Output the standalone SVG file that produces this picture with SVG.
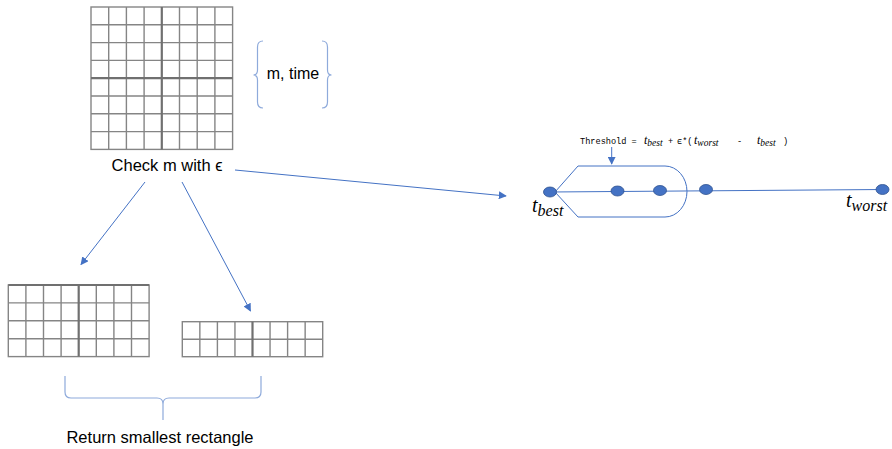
<svg xmlns="http://www.w3.org/2000/svg" width="892" height="449" viewBox="0 0 892 449">
<style>
.grid{fill:#ffffff;stroke:#858585;stroke-width:1.4}
.gthin{fill:none;stroke:#858585;stroke-width:1.4}
.gthick{fill:none;stroke:#707070;stroke-width:2.2}
.brace{fill:none;stroke:#8eaadb;stroke-width:1.2}
.conn{fill:none;stroke:#4472c4;stroke-width:1}
.dot{fill:#4472c4;stroke:#2f528f;stroke-width:0.8}
.lbl{font-family:"Liberation Sans",Arial,sans-serif;fill:#000}
.mono{font-family:"Liberation Mono","DejaVu Sans Mono",monospace;font-size:8.6px;fill:#000}
.math{font-family:"Liberation Serif","DejaVu Serif",serif;font-style:italic;fill:#000}
</style>
<defs>
<marker id="ah" viewBox="0 0 10 10" refX="9" refY="5" markerWidth="8" markerHeight="8" markerUnits="userSpaceOnUse" orient="auto">
<path d="M0,0 L10,5 L0,10 Z" fill="#4472c4"/>
</marker>
</defs>

<g id="grid-large">
<rect class="grid" x="91" y="7" width="141.6" height="142.4"/>
<path class="gthin" d="M108.7,7V149.4M126.4,7V149.4M144.1,7V149.4M179.5,7V149.4M197.2,7V149.4M214.9,7V149.4M91,24.8H232.6M91,42.6H232.6M91,60.4H232.6M91,96H232.6M91,113.8H232.6M91,131.6H232.6"/>
<path class="gthick" d="M161.8,7V149.4M91,78.2H232.6"/>
<text class="lbl" x="167" y="171" font-size="16.5" text-anchor="middle">Check m with ϵ</text>
</g>

<g id="brace-mtime">
<path class="brace" d="M263,41 Q257.5,41 257.5,47 L257.5,70 Q257.5,75 253.5,75 Q257.5,75 257.5,80 L257.5,102 Q257.5,108 263,108"/>
<path class="brace" d="M322,41 Q327.5,41 327.5,47 L327.5,70 Q327.5,75 331.5,75 Q327.5,75 327.5,80 L327.5,102 Q327.5,108 322,108"/>
<text class="lbl" x="293" y="79" font-size="16" text-anchor="middle">m, time</text>
</g>

<g id="grid-left">
<rect class="grid" x="8.3" y="285" width="140.8" height="71.6"/>
<path class="gthin" d="M25.9,285V356.6M43.5,285V356.6M61.1,285V356.6M96.3,285V356.6M113.9,285V356.6M131.5,285V356.6M8.3,302.9H149.1M8.3,320.8H149.1M8.3,338.7H149.1"/>
<path class="gthick" d="M78.7,285V356.6M8.3,285H149.1"/>
</g>

<g id="grid-right">
<rect class="grid" x="182.3" y="321.7" width="140.4" height="35"/>
<path class="gthin" d="M199.85,321.7V356.7M217.4,321.7V356.7M234.95,321.7V356.7M270.05,321.7V356.7M287.6,321.7V356.7M305.15,321.7V356.7M182.3,339.2H322.7"/>
<path class="gthick" d="M252.5,321.7V356.7"/>
</g>

<g id="brace-return">
<path class="brace" d="M65,376 L65,392 Q65,398 71,398 L157,398 Q163,398 163,404 L163,420 M163,404 Q163,398 169,398 L255,398 Q261,398 261,392 L261,376"/>
<text class="lbl" x="160" y="443" font-size="16.5" text-anchor="middle">Return smallest rectangle</text>
</g>

<g id="timeline">
<path class="conn" d="M550,192 L883,189.5"/>
<path class="conn" stroke-width="1.3" d="M555,192 L578,166 L665,166 A22,25.5 0 0 1 665,217 L578,217 Z"/>
<ellipse class="dot" cx="550" cy="192" rx="6.5" ry="5"/>
<ellipse class="dot" cx="617.5" cy="191" rx="6.5" ry="5"/>
<ellipse class="dot" cx="660" cy="190.5" rx="6.5" ry="5"/>
<ellipse class="dot" cx="706" cy="189.5" rx="6.5" ry="5"/>
<ellipse class="dot" cx="882.5" cy="189.5" rx="6.5" ry="5"/>
<text class="math" x="532" y="212" font-size="20">t<tspan font-size="16" dy="4">best</tspan></text>
<text class="math" x="846" y="207" font-size="20">t<tspan font-size="16" dy="4">worst</tspan></text>
</g>

<g id="threshold">
<text class="mono" x="580" y="143.5">Threshold =</text>
<text class="math" x="644" y="143.5" font-size="12">t<tspan font-size="9.5" dy="2">best</tspan></text>
<text class="mono" x="668" y="143.5">+</text>
<text class="mono" x="677" y="143.5">ϵ*(</text>
<text class="math" x="694" y="143.5" font-size="12">t<tspan font-size="9.5" dy="2">worst</tspan></text>
<text class="mono" x="737" y="143.5">-</text>
<text class="math" x="757" y="143.5" font-size="12">t<tspan font-size="9.5" dy="2">best</tspan></text>
<text class="mono" x="783" y="143.5">)</text>
</g>

<g id="connectors">
<path class="conn" marker-end="url(#ah)" d="M235,170 L506,196"/>
<path class="conn" marker-end="url(#ah)" d="M145,182 L81,264.5"/>
<path class="conn" marker-end="url(#ah)" d="M182,182 L250.5,311"/>
<path class="conn" marker-end="url(#ah)" d="M611.7,147 L611.7,164"/>
</g>
</svg>
